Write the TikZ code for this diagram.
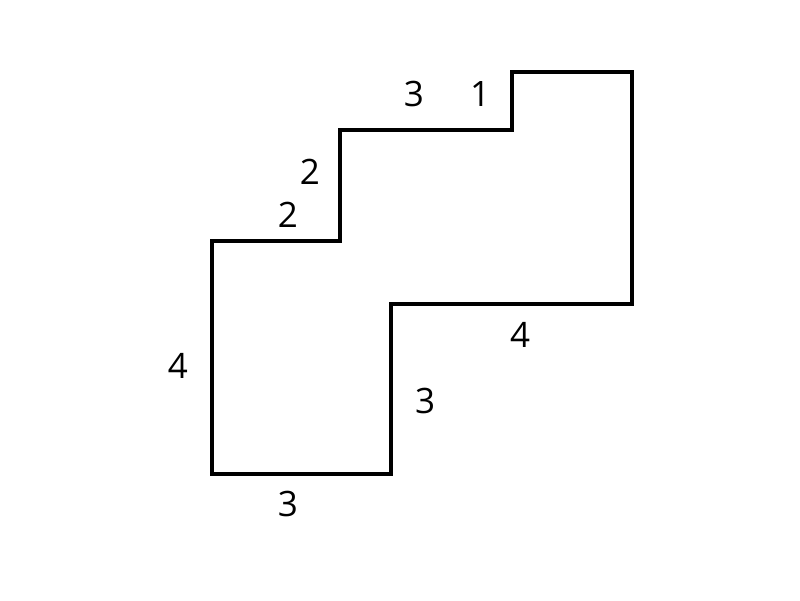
\documentclass[tikz,border=0pt]{standalone}
\usepackage{fontspec}
\setmainfont{Open Sans}
\usetikzlibrary{positioning}

\begin{document}
\begin{tikzpicture}[x=1pt, y=-1pt,
    lbl/.style={font=\fontsize{35}{40}\selectfont, inner sep=0pt}]
        \useasboundingbox (0,0) rectangle (800,600);
        \coordinate (P1) at (212,474);
        \coordinate (P2) at (391,474);
        \coordinate (P3) at (391,304);
        \coordinate (P4) at (632,304);
        \coordinate (P5) at (632,72);
        \coordinate (P6) at (512,72);
        \coordinate (P7) at (512,130);
        \coordinate (P8) at (340,130);
        \coordinate (P9) at (340,241);
        \coordinate (P10) at (212,241);
        \draw[line width=4pt, line join=miter] (P1) -- (P2) -- (P3) -- (P4) -- (P5) -- (P6)
            -- (P7) -- (P8) -- (P9) -- (P10) -- cycle;

        \node[lbl] (Lbot) at (288,504) {3};
        \node[lbl] (Lleft) at (178,366) {4};
        \node[lbl] (Lstepa) at (288,215) {2};
        \node[lbl] (Lstepb) at (310,172) {2};
        \node[lbl] (Ltopa) at (414,94) {3};
        \node[lbl] (Ltopb) at (480,94) {1};
        \node[lbl] (Lmid) at (520,335) {4};
        \node[lbl] (Linner) at (425,401) {3};
    \end{tikzpicture}
\end{document}
